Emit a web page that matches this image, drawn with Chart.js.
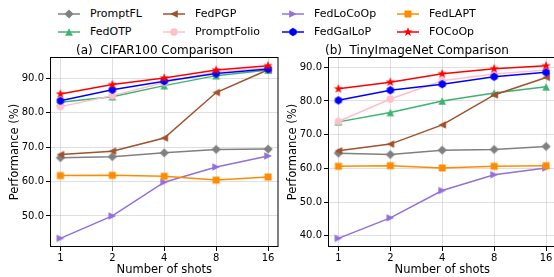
<!DOCTYPE html>
<html>
<head>
<meta charset="utf-8">
<script src="https://cdn.jsdelivr.net/npm/chart.js@4.4.1/dist/chart.umd.min.js"></script>
<style>
  html, body { margin: 0; padding: 0; background: #fff; overflow: hidden; width: 554px; height: 277px; }
  #fig { position: relative; width: 554px; height: 277px; font-family: 'DejaVu Sans', sans-serif; color: #000; overflow: hidden; }
  canvas.plot { position: absolute; top: 0; }
  .title { position: absolute; font-size: 12px; line-height: 14px; white-space: pre; }
  .leg { position: absolute; font-size: 11px; line-height: 12px; white-space: nowrap; display: flex; align-items: center; }
  .leg canvas { margin-right: 10px; }
</style>
</head>
<body>
<div id="fig">
  <div id="legend"></div>
  <div class="title" style="left:76px; top:43px;">(a)  CIFAR100 Comparison</div>
  <div class="title" style="left:325px; top:43px;">(b)  TinyImageNet Comparison</div>
  <canvas id="cifarChart" class="plot" width="278" height="277" style="left:0;"></canvas>
  <canvas id="tinyChart" class="plot" width="278" height="277" style="left:278px;"></canvas>
</div>
<script>
/* ── Data ── */
const shots = ["1", "2", "4", "8", "16"];
const methods = ["PromptFL", "FedOTP", "FedPGP", "PromptFolio", "FedLoCoOp", "FedGalLoP", "FedLAPT", "FOCoOp"];

const cifarPromptFL    = [66.9, 67.2, 68.3, 69.3, 69.4];
const cifarFedOTP      = [83.0, 84.6, 87.8, 90.7, 92.3];
const cifarFedPGP      = [67.8, 68.8, 72.6, 85.8, 92.4];
const cifarPromptFolio = [81.7, 84.9, 88.7, 91.8, 92.9];
const cifarFedLoCoOp   = [43.5, 50.0, 59.8, 64.2, 67.4];
const cifarFedGalLoP   = [83.4, 86.6, 89.1, 91.3, 92.6];
const cifarFedLAPT     = [61.7, 61.8, 61.5, 60.4, 61.3];
const cifarFOCoOp      = [85.4, 88.1, 90.0, 92.3, 93.6];

const tinyPromptFL    = [64.5, 64.1, 65.4, 65.6, 66.5];
const tinyFedOTP      = [73.8, 76.6, 80.0, 82.4, 84.2];
const tinyFedPGP      = [65.2, 67.2, 72.9, 81.8, 87.0];
const tinyPromptFolio = [73.9, 80.6, 86.0, 88.0, 89.2];
const tinyFedLoCoOp   = [39.2, 45.3, 53.4, 58.1, 60.1];
const tinyFedGalLoP   = [80.2, 83.2, 85.0, 87.2, 88.5];
const tinyFedLAPT     = [60.6, 60.8, 60.1, 60.6, 60.8];
const tinyFOCoOp      = [83.6, 85.6, 88.1, 89.6, 90.5];

const cifarTicks = [50, 60, 70, 80, 90];
const tinyTicks = [40, 50, 60, 70, 80, 90];

const cifarSeries = [cifarPromptFL, cifarFedOTP, cifarFedPGP, cifarPromptFolio, cifarFedLoCoOp, cifarFedGalLoP, cifarFedLAPT, cifarFOCoOp];
const tinySeries = [tinyPromptFL, tinyFedOTP, tinyFedPGP, tinyPromptFolio, tinyFedLoCoOp, tinyFedGalLoP, tinyFedLAPT, tinyFOCoOp];

/* ── Styles ── */
const lineColors = ["#808080", "#3cb371", "#a0522d", "#ffc0cb", "#9370db", "#0000ff", "#ff8c00", "#ff0000"];
const shapes = ["diamond", "up", "left", "circle", "right", "hexagon", "square", "star"];

Chart.defaults.font.family = "'DejaVu Sans', sans-serif";
Chart.defaults.font.size = 10;
Chart.defaults.color = "#000";

/* ── Marker images (matplotlib-like filled markers) ── */
function marker(shape, color) {
  const size = 12;
  const c = document.createElement("canvas");
  c.width = c.height = size;
  const g = c.getContext("2d");
  const m = size / 2;
  g.fillStyle = color;
  g.beginPath();
  const poly = (pts) => {
    g.moveTo(m + pts[0][0], m + pts[0][1]);
    pts.slice(1).forEach((p) => g.lineTo(m + p[0], m + p[1]));
    g.closePath();
  };
  const ring = (n, r, rot) => {
    const pts = [];
    for (let i = 0; i < n; i++) {
      const a = rot + (i * 2 * Math.PI) / n;
      pts.push([r * Math.cos(a), r * Math.sin(a)]);
    }
    return pts;
  };
  const t = 3.8;
  switch (shape) {
    case "square": g.rect(m - 3.5, m - 3.5, 7, 7); break;
    case "circle": g.arc(m, m, 3.8, 0, Math.PI * 2); break;
    case "diamond": poly(ring(4, 4.6, -Math.PI / 2)); break;
    case "up": poly([[0, -t], [-t, t], [t, t]]); break;
    case "left": poly([[-t, 0], [t, -t], [t, t]]); break;
    case "right": poly([[t, 0], [-t, -t], [-t, t]]); break;
    case "hexagon": poly(ring(6, 4.2, -Math.PI / 2)); break;
    case "star": {
      const pts = [];
      for (let i = 0; i < 10; i++) {
        const r = i % 2 ? 2.0 : 4.9;
        const a = -Math.PI / 2 + (i * Math.PI) / 5;
        pts.push([r * Math.cos(a), r * Math.sin(a)]);
      }
      poly(pts);
      break;
    }
  }
  g.fill();
  return c;
}

const markers = methods.map((_, i) => marker(shapes[i], lineColors[i]));

/* ── Legend (4 columns, column-major like matplotlib) ── */
const legCols = [58, 163, 282, 397];
const legRows = [14, 32];
const legend = document.getElementById("legend");
methods.forEach((name, i) => {
  const item = document.createElement("div");
  item.className = "leg";
  item.style.left = legCols[Math.floor(i / 2)] + "px";
  item.style.top = legRows[i % 2] - 6 + "px";
  const sw = document.createElement("canvas");
  sw.width = 22;
  sw.height = 12;
  const g = sw.getContext("2d");
  g.strokeStyle = lineColors[i];
  g.lineWidth = 1.5;
  g.beginPath();
  g.moveTo(0, 6);
  g.lineTo(22, 6);
  g.stroke();
  g.drawImage(markers[i], 11 - 6, 0);
  item.appendChild(sw);
  item.appendChild(document.createTextNode(name));
  legend.appendChild(item);
});

/* ── Axes frame (matplotlib box) ── */
const frame = {
  id: "frame",
  afterDatasetsDraw(chart) {
    const { ctx, chartArea: a } = chart;
    ctx.save();
    ctx.strokeStyle = "#000";
    ctx.lineWidth = 1;
    ctx.strokeRect(a.left + 0.5, a.top + 0.5, a.right - a.left - 1, a.bottom - a.top - 1);
    ctx.restore();
  },
};

function panelConfig(series, yTicks) {
  const all = series.flat();
  const lo = Math.min(...all), hi = Math.max(...all);
  const pad = (hi - lo) * 0.05;
  return {
    type: "line",
    data: {
      datasets: series.map((vals, i) => ({
        label: methods[i],
        data: vals.map((v, k) => ({ x: k, y: v })),
        borderColor: lineColors[i],
        backgroundColor: lineColors[i],
        borderWidth: 1.5,
        pointStyle: markers[i],
        pointRadius: 4,
        tension: 0,
        order: series.length - i,
      })),
    },
    options: {
      responsive: false,
      animation: false,
      events: [],
      layout: { padding: { top: 57, left: 0, right: 0, bottom: 0 } },
      plugins: { legend: { display: false }, tooltip: { enabled: false } },
      scales: {
        x: {
          type: "linear",
          min: -0.2,
          max: 4.2,
          afterBuildTicks: (s) => { s.ticks = shots.map((_, k) => ({ value: k })); },
          afterFit: (s) => { s.height = 30; },
          ticks: { callback: (v) => shots[v], padding: 1, maxRotation: 0 },
          grid: { color: "rgba(176,176,176,0.4)", tickColor: "#000", tickLength: 4 },
          border: { display: false },
          title: { display: true, text: "Number of shots", font: { size: 11.5 }, padding: { top: 0, bottom: 0 } },
        },
        y: {
          min: lo - pad,
          max: hi + pad,
          afterBuildTicks: (s) => { s.ticks = yTicks.map((v) => ({ value: v })); },
          afterFit: (s) => { s.width = 50; },
          ticks: { callback: (v) => v.toFixed(1), padding: 2 },
          grid: { color: "rgba(176,176,176,0.4)", tickColor: "#000", tickLength: 4 },
          border: { display: false },
          title: { display: true, text: "Performance (%)", font: { size: 11.5 }, padding: { top: 8, bottom: 0 } },
        },
      },
    },
    plugins: [frame],
  };
}

// chart.js keeps a few px on the right of the plot; build once, measure, rebuild on a wider canvas
function makePanel(id, series, yTicks) {
  const canvas = document.getElementById(id);
  let chart = new Chart(canvas, panelConfig(series, yTicks));
  const lost = Math.round(278 - chart.chartArea.right);
  if (lost > 0) {
    chart.destroy();
    canvas.width = 278 + lost;
    canvas.height = 277;
    chart = new Chart(canvas, panelConfig(series, yTicks));
  }
}

makePanel("cifarChart", cifarSeries, cifarTicks);
makePanel("tinyChart", tinySeries, tinyTicks);
</script>
</body>
</html>
